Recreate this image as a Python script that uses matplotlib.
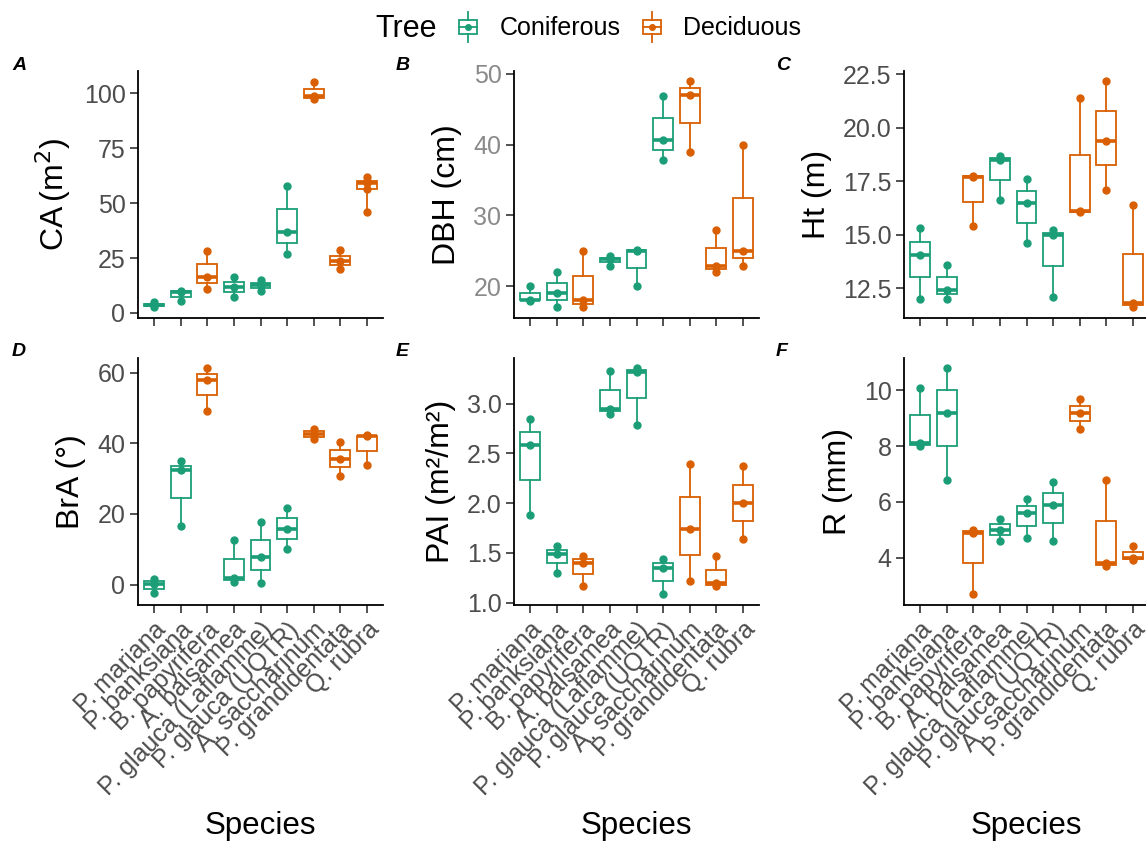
import matplotlib
matplotlib.use('Agg')
import matplotlib.pyplot as plt
from matplotlib.patches import Rectangle
from matplotlib.lines import Line2D
from matplotlib.legend_handler import HandlerBase

plt.rcParams['font.family'] = ['Liberation Sans', 'DejaVu Sans']

species = ['P. mariana', 'P. banksiana', 'B. papyrifera', 'A. balsamea',
           'P. glauca (Laflamme)', 'P. glauca (UQTR)', 'A. saccharinum',
           'P. grandidentata', 'Q. rubra']
tree = ['Coniferous', 'Coniferous', 'Deciduous', 'Coniferous', 'Coniferous',
        'Coniferous', 'Deciduous', 'Deciduous', 'Deciduous']
colors = {'Coniferous': '#1B9E77', 'Deciduous': '#D95F02'}

# three trees per species
ca = [[2.5, 3.5, 5.0], [5.3, 9.5, 10.2], [11.0, 16.3, 28.0], [7.3, 11.7, 16.6],
      [9.9, 12.9, 14.8], [26.7, 37.0, 57.6], [97.3, 98.6, 105.0],
      [20.1, 23.8, 28.5], [46.0, 56.5, 59.0, 60.0, 61.7]]
dbh = [[17.9, 18.1, 20.0], [17.0, 19.0, 22.0], [17.0, 18.0, 25.0], [22.9, 23.8, 24.2],
       [20.0, 25.0, 25.1], [37.8, 40.6, 46.8], [39.0, 47.0, 49.0],
       [22.0, 22.9, 28.0], [22.9, 25.0, 40.0]]
ht = [[12.0, 14.06, 15.3], [12.0, 12.4, 13.6], [15.4, 17.7, 17.75], [16.6, 18.5, 18.7],
      [14.6, 16.5, 17.6], [12.1, 15.0, 15.2], [16.05, 16.1, 21.4],
      [17.1, 19.4, 22.2], [11.6, 11.8, 16.4]]
bra = [[-2.5, 0.2, 1.6], [16.7, 32.5, 34.9], [49.3, 58.0, 61.4], [0.7, 1.8, 12.5],
       [0.4, 7.8, 17.7], [10.0, 15.8, 21.8], [41.2, 42.7, 44.2],
       [30.7, 35.7, 40.3], [33.9, 42.0, 42.4]]
pai = [[1.88, 2.59, 2.85], [1.30, 1.49, 1.57], [1.17, 1.40, 1.47], [2.90, 2.95, 3.33],
       [2.79, 3.32, 3.36], [1.09, 1.35, 1.44], [1.22, 1.74, 2.39],
       [1.17, 1.195, 1.47], [1.64, 2.00, 2.37]]
r = [[8.0, 8.1, 10.1], [6.8, 9.2, 10.8], [2.7, 4.9, 5.0], [4.6, 5.0, 5.4],
     [4.7, 5.6, 6.1], [4.6, 5.9, 6.7], [8.6, 9.2, 9.7],
     [3.7, 3.8, 6.8], [3.92, 4.0, 4.4]]

panels = [
    ('A', ca, r'CA$\,$(m$^2$)', [0, 25, 50, 75, 100], ['0', '25', '50', '75', '100'], (-2.3, 110.2)),
    ('B', dbh, 'DBH (cm)', [20, 30, 40, 50], ['20', '30', '40', '50'], (15.5, 50.4)),
    ('C', ht, 'Ht (m)', [12.5, 15, 17.5, 20, 22.5], ['12.5', '15.0', '17.5', '20.0', '22.5'], (11.1, 22.66)),
    ('D', bra, 'BrA (°)', [0, 20, 40, 60], ['0', '20', '40', '60'], (-5.8, 64.2)),
    ('E', pai, 'PAI (m²/m²)', [1.0, 1.5, 2.0, 2.5, 3.0], ['1.0', '1.5', '2.0', '2.5', '3.0'], (0.977, 3.46)),
    ('F', r, 'R (mm)', [4, 6, 8, 10], ['4', '6', '8', '10'], (2.3, 11.16)),
]

W, H = 1146, 846
fig = plt.figure(figsize=(W / 100, H / 100), dpi=100)

lefts = [138, 514, 904]
tops = [71, 358]
aw, ah = 245, 247
tag_x = [12, 396, 776]
tag_y = [65, 352]

for k, (tag, data, ylab, yt, ytl, ylim) in enumerate(panels):
    row, col = divmod(k, 3)
    ax = fig.add_axes([lefts[col] / W, 1 - (tops[row] + ah) / H, aw / W, ah / H])
    pos = list(range(1, len(species) + 1))
    bp = ax.boxplot(data, positions=pos, widths=0.75, whis=(0, 100),
                    showfliers=False, showcaps=False, patch_artist=True)
    for i, t in enumerate(tree):
        c = colors[t]
        bp['boxes'][i].set(facecolor='white', edgecolor=c, linewidth=1.3)
        bp['medians'][i].set(color=c, linewidth=2.6)
        for wl in bp['whiskers'][2 * i:2 * i + 2]:
            wl.set(color=c, linewidth=1.3)
        ax.plot([pos[i]] * len(data[i]), data[i], 'o', color=c, ms=5,
                mec=c, zorder=4)
    ax.set_xlim(0.4, 9.6)
    ax.set_ylim(*ylim)
    ax.set_yticks(yt)
    ax.set_yticklabels(ytl)
    for s in ['top', 'right']:
        ax.spines[s].set_visible(False)
    for s in ['left', 'bottom']:
        ax.spines[s].set_linewidth(1.3)
    lab_col = '#8A8A8A' if tag == 'B' else '#4D4D4D'
    ax.tick_params(axis='both', length=6, width=1.2, color='#333333',
                   labelsize=18, labelcolor=lab_col, pad=3)
    ax.set_xticks(pos)
    if row == 1:
        ax.set_xticklabels(species, rotation=45, ha='right', va='top',
                           rotation_mode='anchor')
        ax.set_xlabel('Species', fontsize=22.5, labelpad=8)
    else:
        ax.set_xticklabels([])
    ax.set_ylabel(ylab, fontsize=23, labelpad=8)
    fig.text(tag_x[col] / W, 1 - tag_y[row] / H, tag, fontsize=14,
             fontweight='bold', fontstyle='italic', va='center', ha='left')


class BoxHandler(HandlerBase):
    def create_artists(self, legend, orig_handle, xd, yd, width, height,
                       fontsize, trans):
        c = orig_handle.get_color()
        bw = width * 0.55
        x0 = -xd + (width - bw) / 2
        xm = -xd + width / 2
        y0 = -yd
        bh = height * 0.55
        yb = y0 + (height - bh) / 2
        box = Rectangle((x0, yb), bw, bh, facecolor='white', edgecolor=c,
                        linewidth=1.3, transform=trans)
        med = Line2D([x0, x0 + bw], [y0 + height / 2] * 2, color=c,
                     linewidth=1.3, transform=trans)
        wh1 = Line2D([xm, xm], [y0 - height * 0.05, yb], color=c,
                     linewidth=1.3, transform=trans)
        wh2 = Line2D([xm, xm], [yb + bh, y0 + height * 1.05], color=c,
                     linewidth=1.3, transform=trans)
        dot = Line2D([xm], [y0 + height / 2], marker='o', ms=4, color=c,
                     transform=trans)
        return [box, med, wh1, wh2, dot]


handles = [Line2D([], [], color=colors['Coniferous']),
           Line2D([], [], color=colors['Deciduous'])]
fig.text(375 / W, 1 - 29 / H, 'Tree', fontsize=22, va='center', ha='left')
fig.legend(handles, ['Coniferous', 'Deciduous'], ncol=2, frameon=False,
           loc='center left', bbox_to_anchor=(452 / W, 1 - 27 / H),
           fontsize=18, handler_map={Line2D: BoxHandler()},
           handlelength=1.3, handleheight=1.3, columnspacing=0.6,
           handletextpad=0.6, borderaxespad=0, borderpad=0)

fig.savefig('out.png', dpi=100)
